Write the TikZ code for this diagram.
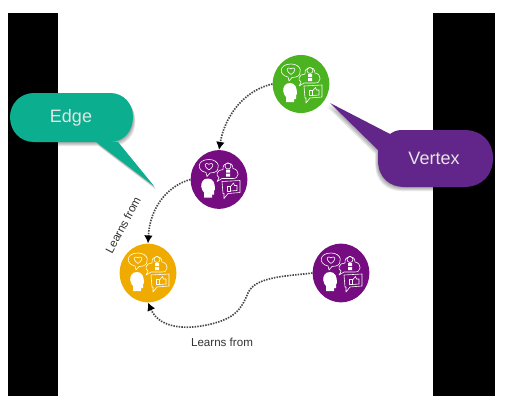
\documentclass[tikz,border=0pt]{standalone}
\usepackage{fontspec}
\setmainfont{Liberation Sans}
\usetikzlibrary{shapes.geometric,arrows.meta}
\definecolor{cgreen}{HTML}{4CB320}
\definecolor{cpurple}{HTML}{750C80}
\definecolor{corange}{HTML}{F0AB00}
\definecolor{cteal}{HTML}{0BAE8E}
\definecolor{cviolet}{HTML}{62268A}
\tikzset{
  x=0.75pt,y=-0.75pt,
  vertex/.style={ellipse,inner sep=0pt,minimum width=42.5pt,minimum height=44pt,fill=#1},
  link/.style={draw=black!72,line width=1.25pt,dash pattern=on 1.1pt off 0.9pt,-{Latex[length=6pt,width=6.5pt,black]}},
  lbl/.style={font=\fontsize{8.7pt}{10pt}\selectfont,text=black!80,inner sep=0pt},
  calltext/.style={font=\fontsize{13.5pt}{16pt}\selectfont,inner sep=0pt,text=white!90!black},
  iconline/.style={draw=white,line width=0.45pt,fill=none,line join=round},
  softshadow/.style={black,opacity=.09},
  icons/.pic={
    % heart bubble
    \draw[iconline] (-5,-7) .. controls (2,-9) and (1,-20) .. (-10,-20)
      .. controls (-22,-20) and (-23,-9) .. (-13,-7) -- (-12,-3) -- (-9,-6.5) -- cycle;
    \draw[iconline] (-10,-9.5) .. controls (-14,-12) and (-15,-15.5) .. (-12.5,-16)
      .. controls (-11,-16.2) and (-10,-15) .. (-10,-15)
      .. controls (-10,-15) and (-9,-16.2) .. (-7.5,-16)
      .. controls (-5,-15.5) and (-6,-12) .. (-10,-9.5);
    % idea cloud
    \draw[iconline] (-2,2) .. controls (-1,0) and (0,-1) .. (0,-2)
      .. controls (-4,-4) and (-2,-10) .. (4,-10)
      .. controls (3,-18) and (14,-19) .. (14,-11)
      .. controls (21,-10) and (21,0) .. (13,-1)
      -- (3,-1) -- cycle;
    \draw[iconline] (9,-13.5) circle (3);
    \fill[white] (7,-10) rectangle (11,-7) (7,-6) rectangle (11,-3);
    % like box
    \draw[iconline] (3,2) -- (21,1) -- (21,13) -- (9,14) -- (5,19) -- (5,14) -- (4,14) -- cycle;
    \draw[iconline] (8,6.5) rectangle (11.5,11.5);
    \draw[iconline] (11.5,7) -- (14.5,3.5) -- (15.5,6) -- (18,6) -- (18,11) -- (11.5,11.5);
    % head
    \fill[white] (-11,-1) .. controls (-16,-1) and (-18,3) .. (-17.8,7)
      .. controls (-17.5,10) and (-16,12) .. (-15,13) -- (-15,18) -- (-7,18) -- (-7,15)
      -- (-5,15) -- (-5,11) -- (-4,10) .. controls (-4,3) and (-6,-1) .. (-11,-1) -- cycle;
  }
}
\def\edgepath{(34,93) -- (110,93) .. controls (124,93) and (133,104) .. (133,117) .. controls (133,131) and (124,142) .. (110,142) -- (118,142) -- (154,186) -- (96,142) -- (34,142) .. controls (20,142) and (10,131) .. (10,117) .. controls (10,104) and (20,93) .. (34,93) -- cycle}
\def\vertexpath{(390,134) -- (330,103) -- (378,150) -- (378,160) .. controls (378,178) and (390,187) .. (404,187) -- (464,187) .. controls (482,187) and (493,175) .. (493,158) .. controls (493,142) and (482,130) .. (464,130) -- (402,130) .. controls (396,130) and (393,132) .. (390,134) -- cycle}
\begin{document}
\begin{tikzpicture}
\useasboundingbox (0,0) rectangle (517,414);
\fill[white] (0,0) rectangle (517,414);
\fill[black] (8,13) rectangle (58,396);
\fill[black] (433,13) rectangle (495,396);
% callouts with soft shadows
\foreach \d in {1,2,3,4}{
  \fill[softshadow,shift={(0.6*\d,1*\d)}] \edgepath;
  \fill[softshadow,shift={(-0.7*\d,1*\d)}] \vertexpath;
}
\fill[cteal] \edgepath;
\fill[cviolet] \vertexpath;
\node[calltext] (edgetext) at (71,117.5) {Edge};
\node[calltext] (vertextext) at (434,158.5) {Vertex};
% vertices
\node[vertex=cgreen,minimum height=43.5pt] (green) at (301,84) {};
\node[vertex=cpurple] (purpleA) at (219,179.5) {};
\node[vertex=corange] (orange) at (148,273) {};
\node[vertex=cpurple] (purpleB) at (341,273) {};
\pic at (green) {icons};
\pic at (purpleA) {icons};
\pic at (orange) {icons};
\pic at (purpleB) {icons};
% connectors
\draw[link] (green.west) .. controls (245,90) and (225,115) .. (purpleA.north);
\draw[link] (purpleA.west) .. controls (170,185) and (150,205) .. (orange.north);
\draw[link] (purpleB.west) .. controls (290,276) and (255,276) .. (248,293)
  .. controls (241,310) and (235,317) .. (215,323)
  .. controls (190,330) and (160,330) .. (orange.south);
% labels
\node[lbl,rotate=62] (learnA) at (123,225) {Learns from};
\node[lbl] (learnB) at (222,342) {Learns from};
\end{tikzpicture}
\end{document}
